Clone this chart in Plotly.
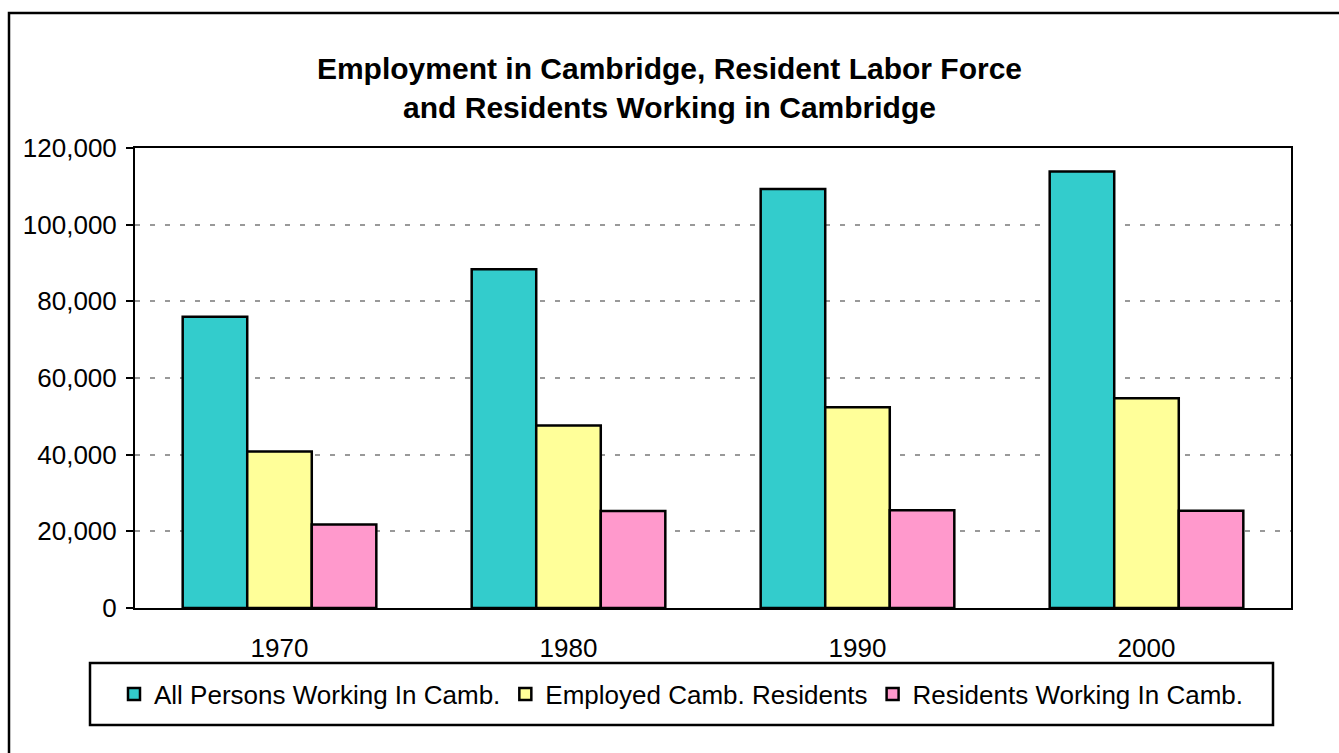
import plotly.graph_objects as go

# Census years and employment counts
years = ["1970", "1980", "1990", "2000"]
all_persons_working = [76000, 88400, 109300, 113900]
employed_residents = [40800, 47600, 52400, 54700]
residents_working_local = [21800, 25300, 25500, 25400]

series_names = [
    "All Persons Working In Camb.",
    "Employed Camb. Residents",
    "Residents Working In Camb.",
]
series_values = [all_persons_working, employed_residents, residents_working_local]
series_colors = ["#33CCCC", "#FFFF99", "#FF99CC"]

y_ticks = [0, 20000, 40000, 60000, 80000, 100000, 120000]

W, H = 1339, 753
L, R, T, B = 135, 48, 148, 145
PW, PH = W - L - R, H - T - B


def px_x(px):
    return (px - L) / PW


def px_y(py):
    return (H - B - py) / PH


fig = go.Figure()
for name, vals, col in zip(series_names, series_values, series_colors):
    fig.add_trace(go.Bar(
        x=years, y=vals, name=name,
        marker=dict(color=col, line=dict(color="black", width=2.5)),
    ))

font_family = "Liberation Sans, Arial, sans-serif"

fig.update_layout(
    width=W, height=H,
    margin=dict(l=L, r=R, t=T, b=B),
    paper_bgcolor="white",
    plot_bgcolor="white",
    barmode="group",
    bargap=0.33,
    bargroupgap=0,
    font=dict(family=font_family, size=26, color="black"),
    title=dict(
        text="<b>Employment in Cambridge, Resident Labor Force<br>and Residents Working in Cambridge</b>",
        x=0.5, xanchor="center",
        y=1 - 79 / H, yanchor="middle",
        font=dict(size=30, family=font_family, color="black"),
    ),
    legend=dict(
        orientation="h",
        x=px_x(681.5), xanchor="center",
        y=px_y(694), yanchor="middle",
        borderwidth=0,
        bgcolor="rgba(0,0,0,0)",
        font=dict(size=26, family=font_family),
        itemwidth=30,
        traceorder="normal",
    ),
    showlegend=True,
)

fig.update_xaxes(
    showline=True, linecolor="black", linewidth=2, mirror=True,
    showgrid=False, ticks="", tickfont=dict(size=26),
    ticklabelstandoff=16,
)
fig.update_yaxes(
    range=[0, 120000],
    tickvals=y_ticks,
    tickformat=",d",
    showline=True, linecolor="black", linewidth=2, mirror=True,
    showgrid=True, gridcolor="#999999", gridwidth=2, griddash="5px,10px",
    ticks="outside", ticklen=7, tickcolor="black", tickwidth=2,
    tickfont=dict(size=26),
    ticklabelstandoff=4,
    zeroline=False,
)

# Outer frame of the chart area
fig.add_shape(
    type="rect", xref="paper", yref="paper",
    x0=px_x(9), x1=1.2,
    y0=-0.5, y1=px_y(13),
    line=dict(color="black", width=2.5), fillcolor="rgba(0,0,0,0)",
    layer="below",
)

# Box around the legend entries
fig.add_shape(
    type="rect", xref="paper", yref="paper",
    x0=px_x(90), x1=px_x(1273),
    y0=px_y(725), y1=px_y(663),
    line=dict(color="black", width=2.5), fillcolor="white",
    layer="below",
)

fig.write_html("out.html")
